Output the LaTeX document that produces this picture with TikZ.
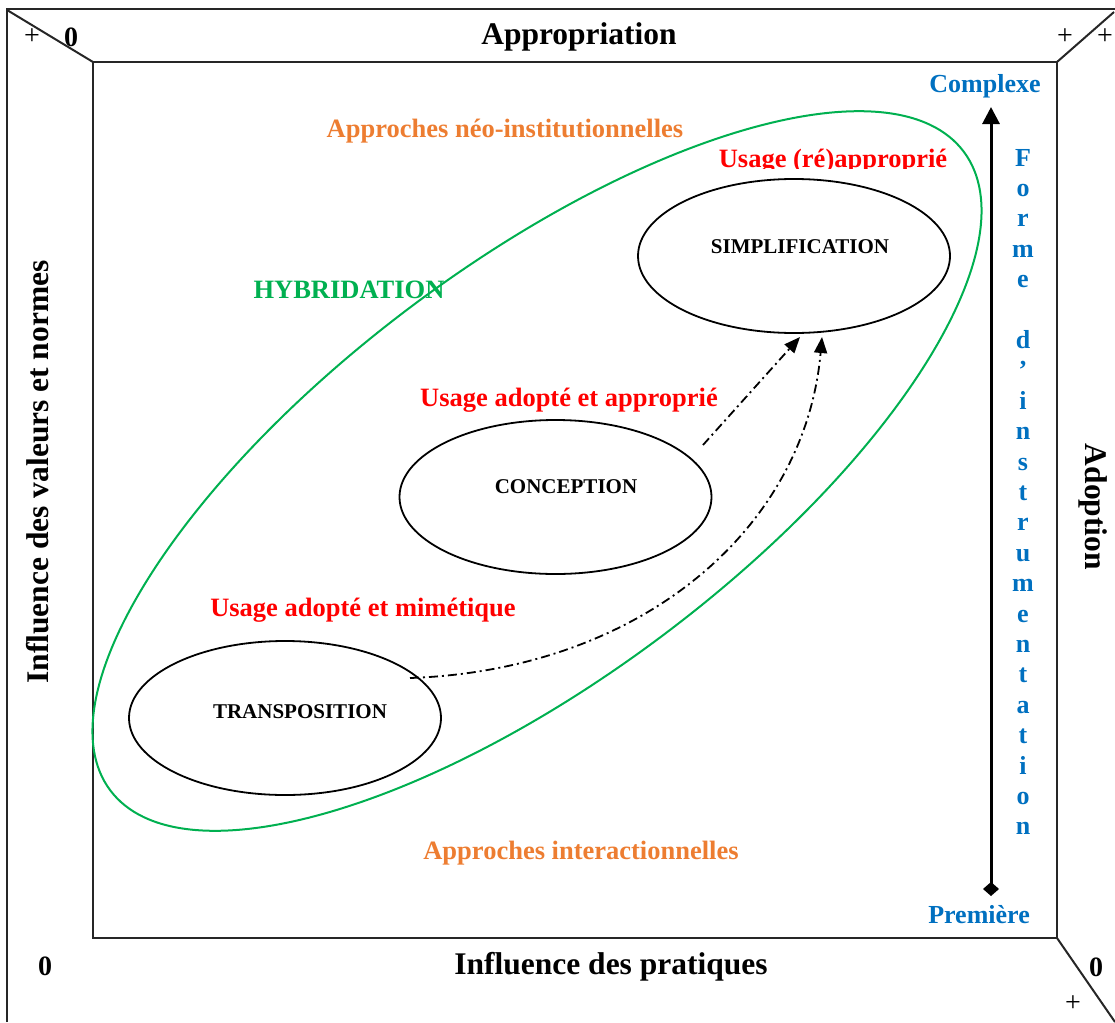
\documentclass[tikz,border=0pt]{standalone}
\usepackage{fontspec}
\setmainfont{Liberation Serif}
\usetikzlibrary{arrows.meta,shapes.geometric}
\definecolor{myred}{RGB}{255,0,0}
\definecolor{myorange}{RGB}{237,125,49}
\definecolor{myblue}{RGB}{0,112,192}
\definecolor{mygreen}{RGB}{0,176,80}
\begin{document}
\begin{tikzpicture}[x=1pt,y=-1pt,
  frame/.style={line width=2pt, draw=black!85},
  axis/.style={font=\fontsize{31.5}{36}\selectfont\bfseries, inner sep=0pt},
  corner/.style={font=\fontsize{28}{32}\selectfont\bfseries, inner sep=0pt},
  plus/.style={font=\fontsize{28}{32}\selectfont, inner sep=0pt},
  usage/.style={font=\fontsize{26.5}{30}\selectfont\bfseries, text=myred, inner sep=0pt},
  approche/.style={font=\fontsize{26.5}{30}\selectfont\bfseries, text=myorange, inner sep=0pt},
  hybr/.style={font=\fontsize{26.5}{30}\selectfont\bfseries, text=mygreen, inner sep=0pt},
  bluetxt/.style={font=\fontsize{26}{30}\selectfont\bfseries, text=myblue, inner sep=0pt},
  ell/.style={draw, ellipse, line width=1.8pt, minimum width=312pt, minimum height=154pt, inner sep=0pt},
  elltext/.style={font=\fontsize{21}{24}\selectfont\bfseries, inner sep=0pt},
  dd/.style={line width=1.8pt, dash pattern=on 9pt off 4pt on 2pt off 4pt, -{Triangle[length=16pt,width=13pt]}},
]
\useasboundingbox (0,0) rectangle (1115,1022);

% frames
\draw[frame] (93,62) rectangle (1057,938);
\draw[frame] (7,1022) -- (7,9) -- (1115,9);
\draw[frame] (7,10) -- (93,62);
\draw[frame] (1057,62) -- (1114,12);
\draw[frame] (1057,938) -- (1115,1022);

% corner marks
\node[plus] (p1) at (32,37) {+};
\node[corner] (z1) at (71,37) {0};
\node[plus] (p2) at (1065,37) {+};
\node[plus] (p3) at (1105,37) {+};
\node[corner] (z2) at (45,966) {0};
\node[corner] (z3) at (1096,967) {0};
\node[plus] (p4) at (1073,1004) {+};

% axis labels
\node[axis] (appr) at (579,37) {Appropriation};
\node[axis] (prat) at (611,967) {Influence des pratiques};
\node[axis, rotate=90] (vals) at (38,472) {Influence des valeurs et normes};
\node[axis, rotate=-90] (adop) at (1093,507) {Adoption};

% green hybrid ellipse
\draw[mygreen, line width=2pt, rotate around={36.8:(537,471)}] (537,471) ellipse [x radius=533, y radius=207];

% colored labels
\node[approche] (neo) at (505,131) {Approches néo-institutionnelles};
\node[approche] (inter) at (581,853) {Approches interactionnelles};
\node[hybr] (hyb) at (349,290) {HYBRIDATION};
\begin{scope}
  \clip (700,140) rectangle (960,168);
  \node[usage] (u1) at (833,161) {Usage (ré)approprié};
\end{scope}
\node[usage] (u2) at (569,400) {Usage adopté et approprié};
\node[usage] (u3) at (363,610) {Usage adopté et mimétique};

% black ellipses
\node[ell] (simp) at (794,256) {};
\node[elltext] (simpt) at (800,247) {SIMPLIFICATION};
\node[ell] (conc) at (555.5,497) {};
\node[elltext] (conct) at (566,487) {CONCEPTION};
\node[ell] (trans) at (285,718) {};
\node[elltext] (transt) at (300,712) {TRANSPOSITION};

% dash-dot arrows
\coordinate (a1s) at (703,445);
\coordinate (a1e) at (800,337);
\coordinate (a2s) at (410,678);
\coordinate (a2e) at (822,337);
\draw[dd] (a1s) -- (a1e);
\draw[dd] (a2s) .. controls (640,670) and (805,530) .. (a2e);

% instrumentation axis
\node[bluetxt] (cplx) at (985,86) {Complexe};
\node[bluetxt] (prem) at (979,915) {Première};
\coordinate (vb) at (991,896);
\coordinate (vt) at (991,107);
\draw[line width=3pt, {Diamond[length=14pt,width=16pt]}-{Triangle[length=17pt,width=17pt]}] (vb) -- (vt);

\foreach \c/\k in {F/0,o/1,r/2,m/3,e/4,d/6,’/7,i/8,n/9,s/10,t/11,r/12,u/13,m/14,e/15,n/16,t/17,a/18,t/19,i/20,o/21,n/22}
  \node[bluetxt, anchor=base] (L\k) at (1023,{166+30.4*\k}) {\c};
\end{tikzpicture}
\end{document}
